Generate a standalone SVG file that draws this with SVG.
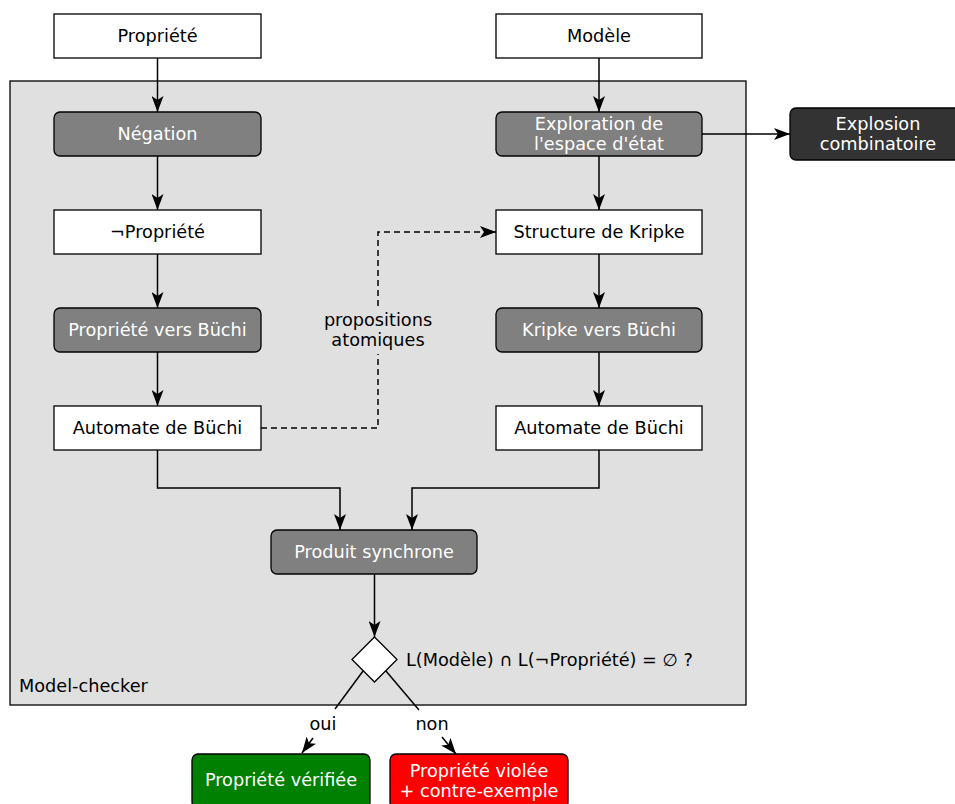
<svg xmlns="http://www.w3.org/2000/svg" width="955" height="804" viewBox="0 0 955 804">
<defs>
<marker id="arr" viewBox="0 0 16 12" refX="16" refY="6" markerWidth="16" markerHeight="12" markerUnits="userSpaceOnUse" orient="auto">
<path d="M0,0 L16,6 L0,12 L4,6 z" fill="#000"/>
</marker>
<style>
text{font-family:"DejaVu Sans",sans-serif;font-size:17.7px;text-anchor:middle;fill:#000}
.w{fill:#fff;stroke:#000;stroke-width:1.3}
.g{fill:#808080;stroke:#000;stroke-width:1.3}
.lt{fill:#fff}
.e{fill:none;stroke:#000;stroke-width:1.5}
.d{fill:none;stroke:#000;stroke-width:1.5;stroke-dasharray:6,4}
</style>
</defs>
<rect width="955" height="804" fill="#fff"/>
<g id="model-checker">
<rect x="10" y="81" width="736" height="624" fill="#e0e0e0" stroke="#000" stroke-width="1.3"/>
<text x="19" y="692" style="text-anchor:start">Model-checker</text>
</g>
<g id="propriete"><rect class="w" x="54" y="14" width="207" height="44"/><text x="157.5" y="42">Propriété</text></g>
<g id="modele"><rect class="w" x="496" y="14" width="206" height="44"/><text x="599" y="42">Modèle</text></g>
<g id="negation"><rect class="g" x="54" y="112" width="207" height="44" rx="6"/><text class="lt" x="157.5" y="140">Négation</text></g>
<g id="exploration"><rect class="g" x="496" y="112" width="206" height="44" rx="6"/><text class="lt" x="599" y="130">Exploration de</text><text class="lt" x="599" y="150">l'espace d'état</text></g>
<g id="explosion"><rect x="790" y="108" width="176" height="52" rx="6" fill="#333" stroke="#000" stroke-width="1.3"/><text class="lt" x="878" y="130">Explosion</text><text class="lt" x="878" y="150">combinatoire</text></g>
<g id="non-propriete"><rect class="w" x="54" y="210" width="207" height="44"/><text x="157.5" y="238">¬Propriété</text></g>
<g id="kripke"><rect class="w" x="496" y="210" width="206" height="44"/><text x="599" y="238">Structure de Kripke</text></g>
<g id="prop-buchi"><rect class="g" x="54" y="308" width="207" height="44" rx="6"/><text class="lt" x="157.5" y="336">Propriété vers Büchi</text></g>
<g id="kripke-buchi"><rect class="g" x="496" y="308" width="206" height="44" rx="6"/><text class="lt" x="599" y="336">Kripke vers Büchi</text></g>
<g id="automate-gauche"><rect class="w" x="54" y="406" width="207" height="44"/><text x="157.5" y="434">Automate de Büchi</text></g>
<g id="automate-droite"><rect class="w" x="496" y="406" width="206" height="44"/><text x="599" y="434">Automate de Büchi</text></g>
<g id="produit"><rect class="g" x="271" y="530" width="206" height="44" rx="6"/><text class="lt" x="374" y="558">Produit synchrone</text></g>
<g id="decision"><path d="M374.5,637 L397,659.5 L374.5,682 L352,659.5 Z" fill="#fff" stroke="#000" stroke-width="1.3"/><text x="406" y="666" style="text-anchor:start">L(Modèle) ∩ L(¬Propriété) = ∅ ?</text></g>
<g id="verifiee"><rect x="192" y="754" width="178" height="54" rx="6" fill="#008000" stroke="#000" stroke-width="1.3"/><text class="lt" x="281" y="786">Propriété vérifiée</text></g>
<g id="violee"><rect x="390" y="754" width="178" height="54" rx="6" fill="#f00" stroke="#000" stroke-width="1.3"/><text class="lt" x="479" y="777">Propriété violée</text><text class="lt" x="479" y="797">+ contre-exemple</text></g>
<g id="connectors">
<path class="e" d="M157.5,58 V112" marker-end="url(#arr)"/>
<path class="e" d="M157.5,156 V210" marker-end="url(#arr)"/>
<path class="e" d="M157.5,254 V308" marker-end="url(#arr)"/>
<path class="e" d="M157.5,352 V406" marker-end="url(#arr)"/>
<path class="e" d="M599,58 V112" marker-end="url(#arr)"/>
<path class="e" d="M599,156 V210" marker-end="url(#arr)"/>
<path class="e" d="M599,254 V308" marker-end="url(#arr)"/>
<path class="e" d="M599,352 V406" marker-end="url(#arr)"/>
<path class="e" d="M702,134 H790" marker-end="url(#arr)"/>
<path class="d" d="M261,428 H378 V354"/>
<path class="d" d="M378,306 V232 H496" marker-end="url(#arr)"/>
<text x="378" y="326">propositions</text>
<text x="378" y="346">atomiques</text>
<path class="e" d="M157.5,450 V488 H340 V530" marker-end="url(#arr)"/>
<path class="e" d="M599,450 V488 H412 V530" marker-end="url(#arr)"/>
<path class="e" d="M374.5,574 V637" marker-end="url(#arr)"/>
<path class="e" d="M363.25,670.75 L335,709"/>
<path class="e" d="M313,738 L302,753" marker-end="url(#arr)"/>
<text x="323" y="730">oui</text>
<path class="e" d="M385.75,670.75 L419,710"/>
<path class="e" d="M442,737 L456,754" marker-end="url(#arr)"/>
<text x="432" y="730">non</text>
</g>
</svg>
